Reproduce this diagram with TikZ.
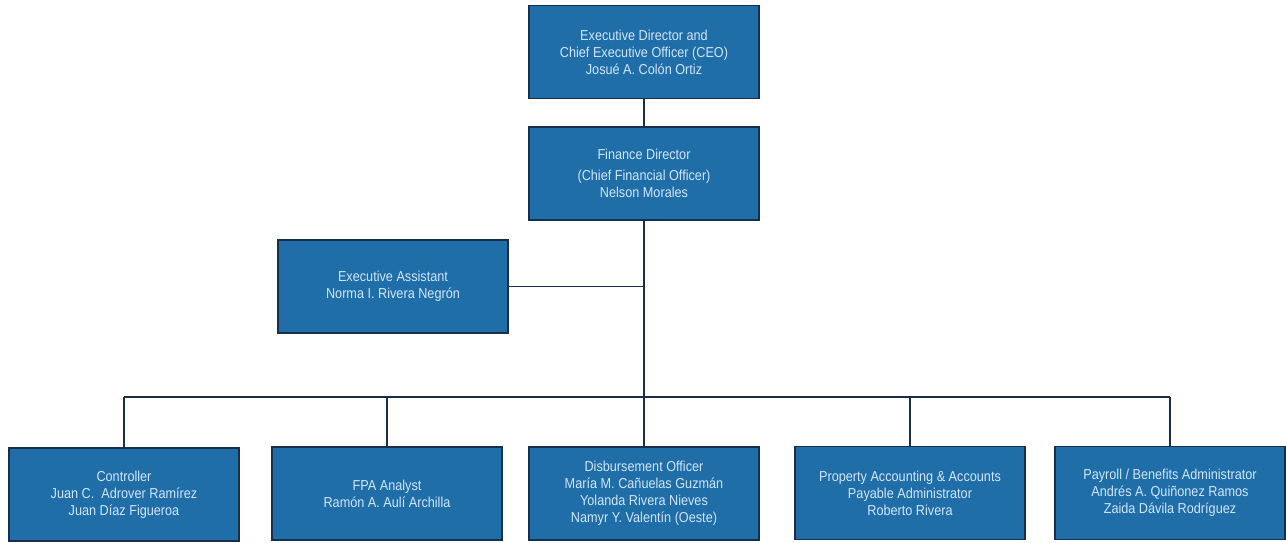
\documentclass[tikz,border=0pt]{standalone}
\usepackage{fontspec}
\setmainfont[FakeStretch=0.88]{Liberation Sans}
\usepackage{tikz}
\definecolor{boxblue}{rgb}{0.12, 0.43, 0.66}
\definecolor{boxedge}{rgb}{0.1, 0.18, 0.3}
\definecolor{boxtext}{rgb}{0.82, 0.9, 0.98}
\tikzset{
  post/.style={draw=boxedge, line width=1pt, fill=boxblue, text=boxtext,
    minimum width=4.6cm, minimum height=1.86cm, align=center,
    font=\fontsize{8.2}{9.7}\selectfont, inner sep=2pt},
  link/.style={line width=0.9pt, draw=boxedge}
}

\begin{document}
\begin{tikzpicture}[x=0.02cm, y=-0.02cm]
\useasboundingbox (0, 0) rectangle (1286, 543);
% top of the chart
\node [post] (ceo) at (644, 52) {Executive Director and\\Chief Executive Officer (CEO)\\Josué A. Colón Ortiz};
\node [post] (cfo) at (644, 173.5) {Finance Director\\[2pt](Chief Financial Officer)\\Nelson Morales};
\node [post] (assist) at (393, 286.5) {Executive Assistant\\Norma I. Rivera Negrón};
% bottom row
\node [post] (ctrl) at (124, 494.5) {Controller\\Juan C.\ \ Adrover Ramírez\\Juan Díaz Figueroa};
\node [post] (fpa) at (387, 493.5) {FPA Analyst\\Ramón A. Aulí Archilla};
\node [post] (disb) at (644, 493.5) {Disbursement Officer\\María M. Cañuelas Guzmán\\Yolanda Rivera Nieves\\Namyr Y. Valentín (Oeste)};
\node [post] (prop) at (910, 493) {Property Accounting \& Accounts\\Payable Administrator\\Roberto Rivera};
\node [post] (pay) at (1170, 493) {Payroll / Benefits Administrator\\Andrés A. Quiñonez Ramos\\Zaida Dávila Rodríguez};
\coordinate (bus) at (644, 397);
% lines
\draw [link] (ceo) -- (cfo);
\draw [link] (cfo.south) -- (bus);
\draw [link] (assist.east) -- (assist.east -| bus);
\draw [link] (bus -| ctrl.north) -- (bus -| pay.north);
\foreach \n in {ctrl, fpa, disb, prop, pay}
  \draw [link] (bus -| \n.north) -- (\n.north);
\end{tikzpicture}
\end{document}
